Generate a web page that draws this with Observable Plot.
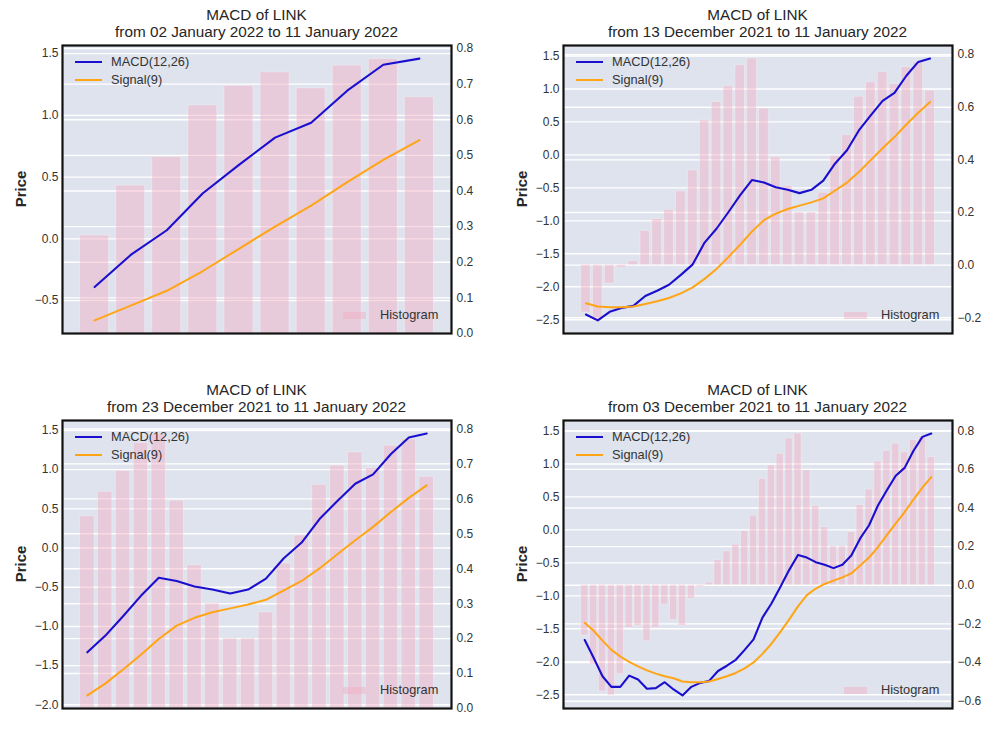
<!DOCTYPE html>
<html><head><meta charset="utf-8">
<script src="https://cdn.jsdelivr.net/npm/d3@7"></script>
<script src="https://cdn.jsdelivr.net/npm/@observablehq/plot@0.6"></script>
<style>
html,body{margin:0;padding:0;background:#fff;overflow:hidden;}
body{width:1002px;height:751px;position:relative;font-family:"Liberation Sans",Arial,sans-serif;}
.panel{position:absolute;width:501px;height:375px;}
.layer{position:absolute;left:0;top:0;}
.title{position:absolute;left:62px;width:389px;top:6px;text-align:center;font-size:15.3px;line-height:17px;color:#262626;white-space:nowrap;}
.ylab{position:absolute;left:20px;top:189px;transform:translate(-50%,-50%) rotate(-90deg);font-size:15px;font-weight:bold;color:#262626;}
.leg{position:absolute;font-size:12.8px;color:#333;white-space:nowrap;line-height:14px;}
.legline{position:absolute;height:2px;}
.legpatch{position:absolute;width:23px;height:7px;}
</style></head><body>
<script>
// MACD(12,26), Signal(9) and histogram of LINK, 03 Dec 2021 .. 11 Jan 2022 (40 days)
const macd = [
  -1.67, -1.94, -2.22, -2.38, -2.38, -2.21, -2.27, -2.41, -2.40, -2.31,
  -2.42, -2.51, -2.38, -2.32, -2.29, -2.14, -2.06, -1.97, -1.82, -1.66,
  -1.33, -1.12, -0.87, -0.61, -0.38, -0.42, -0.49, -0.53, -0.58, -0.53,
  -0.39, -0.13, 0.07, 0.37, 0.60, 0.82, 0.94, 1.20, 1.41, 1.46];
const signal = [
  -1.41, -1.53, -1.68, -1.82, -1.92, -2.00, -2.07, -2.13, -2.18, -2.22,
  -2.25, -2.30, -2.31, -2.31, -2.30, -2.26, -2.22, -2.17, -2.10, -2.01,
  -1.88, -1.73, -1.55, -1.36, -1.16, -0.99, -0.89, -0.82, -0.77, -0.72,
  -0.66, -0.54, -0.42, -0.26, -0.08, 0.10, 0.27, 0.46, 0.64, 0.80];
const hist = [
  -0.26, -0.41, -0.55, -0.57, -0.46, -0.22, -0.21, -0.29, -0.22, -0.10,
  -0.18, -0.21, -0.07, -0.01, 0.015, 0.13, 0.175, 0.21, 0.28, 0.36,
  0.55, 0.62, 0.68, 0.76, 0.785, 0.595, 0.41, 0.30, 0.20, 0.20,
  0.275, 0.415, 0.495, 0.64, 0.695, 0.733, 0.688, 0.752, 0.77, 0.663];

// panels: top-left, top-right, bottom-left, bottom-right
const windowSizes = [10, 30, 20, 40];
const startDates = ["02 January 2022", "13 December 2021", "23 December 2021", "03 December 2021"];
const endDate = "11 January 2022";
const leftTickStep = [0.5, 0.5, 0.5, 0.5];
const rightTickStep = [0.1, 0.2, 0.1, 0.2];
const seriesNames = ["MACD(12,26)", "Signal(9)", "Histogram"];

const BG = "#dee3ee", BLUE = "#1a0fcf", ORANGE = "#ffa515", BAR = "#f2aec0";
const panelPos = [[0, 0], [501, 0], [0, 375], [501, 375]];

function ticksFor(domain, step) {
  const a = Math.ceil(domain[0] / step - 1e-9), b = Math.floor(domain[1] / step + 1e-9);
  return d3.range(a, b + 1).map(v => +(v * step).toFixed(3));
}

windowSizes.forEach((n, k) => {
  const start = macd.length - n;
  const rows = d3.range(n).map(i => ({i, macd: macd[start + i], signal: signal[start + i], hist: hist[start + i]}));
  const [lmin, lmax] = d3.extent(rows.flatMap(d => [d.macd, d.signal]));
  const lpad = 0.05 * (lmax - lmin);
  const leftDomain = [lmin - lpad, lmax + lpad];
  const hmin = Math.min(0, d3.min(rows, d => d.hist)), hmax = Math.max(0, d3.max(rows, d => d.hist));
  const hpad = 0.05 * (hmax - hmin);
  const rightDomain = [hmin < 0 ? hmin - hpad : 0, hmax > 0 ? hmax + hpad : 0];
  const xpad = 0.05 * (n - 1 + 0.8);
  const xDomain = [-0.4 - xpad, n - 1 + 0.4 + xpad];
  const leftTicks = ticksFor(leftDomain, leftTickStep[k]);
  const rightTicks = ticksFor(rightDomain, rightTickStep[k]);
  const fmt = d3.format(".1f");

  const common = {
    width: 501, height: 345, marginLeft: 62, marginRight: 50, marginTop: 45, marginBottom: 12,
    x: {domain: xDomain, axis: null},
    style: {background: "transparent", overflow: "visible", fontFamily: "'Liberation Sans', Arial, sans-serif", fontSize: "12px", color: "#333"}
  };

  const layerA = Plot.plot({
    ...common,
    y: {domain: leftDomain},
    marks: [
      Plot.frame({fill: BG, stroke: null}),
      Plot.gridY(leftTicks, {stroke: "white", strokeOpacity: 1, strokeWidth: 1.4}),
      Plot.axisY(leftTicks, {anchor: "left", tickSize: 0, tickPadding: 4, tickFormat: fmt, label: null, fill: "#333", fontSize: 12})
    ]
  });
  const layerB = Plot.plot({
    ...common,
    y: {domain: rightDomain},
    marks: [
      Plot.gridY(rightTicks, {stroke: "white", strokeOpacity: 1, strokeWidth: 1.4}),
      Plot.rect(rows, {x1: d => d.i - 0.4, x2: d => d.i + 0.4, y1: 0, y2: "hist", fill: BAR, fillOpacity: 0.45, stroke: "white", strokeOpacity: 0.35, strokeWidth: 0.8}),
      Plot.axisY(rightTicks, {anchor: "right", tickSize: 0, tickPadding: 5, tickFormat: fmt, label: null, fill: "#333", fontSize: 12})
    ]
  });
  const layerC = Plot.plot({
    ...common,
    y: {domain: leftDomain, axis: null},
    marks: [
      Plot.lineY(rows, {x: "i", y: "macd", stroke: BLUE, strokeWidth: 2.1}),
      Plot.lineY(rows, {x: "i", y: "signal", stroke: ORANGE, strokeWidth: 2}),
      Plot.frame({stroke: "#111", strokeWidth: 2.2})
    ]
  });

  const panel = document.createElement("div");
  panel.className = "panel";
  panel.style.left = panelPos[k][0] + "px";
  panel.style.top = panelPos[k][1] + "px";
  [layerA, layerB, layerC].forEach(svg => { svg.classList.add("layer"); panel.appendChild(svg); });

  const title = document.createElement("div");
  title.className = "title";
  title.innerHTML = `MACD of LINK<br>from ${startDates[k]} to ${endDate}`;
  panel.appendChild(title);

  const ylab = document.createElement("div");
  ylab.className = "ylab";
  ylab.textContent = "Price";
  panel.appendChild(ylab);

  const legendItems = [
    {name: seriesNames[0], color: BLUE, y: 62},
    {name: seriesNames[1], color: ORANGE, y: 80}
  ];
  legendItems.forEach(it => {
    const ln = document.createElement("div");
    ln.className = "legline";
    Object.assign(ln.style, {left: "75px", width: "27px", top: (it.y - 1) + "px", background: it.color});
    panel.appendChild(ln);
    const tx = document.createElement("div");
    tx.className = "leg";
    Object.assign(tx.style, {left: "111px", top: (it.y - 7) + "px"});
    tx.textContent = it.name;
    panel.appendChild(tx);
  });
  const patch = document.createElement("div");
  patch.className = "legpatch";
  Object.assign(patch.style, {left: "343px", top: "312px", background: BAR, opacity: 0.45});
  panel.appendChild(patch);
  const htx = document.createElement("div");
  htx.className = "leg";
  Object.assign(htx.style, {left: "380px", top: "308px"});
  htx.textContent = seriesNames[2];
  panel.appendChild(htx);

  document.body.appendChild(panel);
});
</script>
</body></html>
